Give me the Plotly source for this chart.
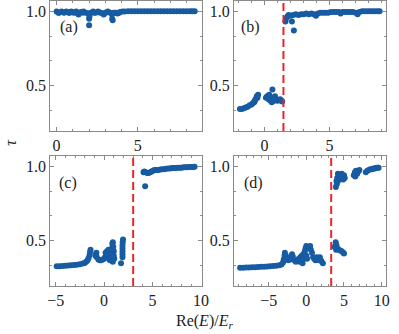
import plotly.graph_objects as go

# ---------------- data ----------------
a_x = [0.0, 0.15, 0.3, 0.45, 0.6, 0.75, 0.9, 1.05, 1.2, 1.3, 1.35, 1.5, 1.65, 1.8, 1.95, 2.0, 2.0, 2.02,
       2.1, 2.25, 2.4, 2.55, 2.7, 2.85, 2.9, 3.0, 3.15, 3.3, 3.4, 3.42, 3.45, 3.5, 3.65, 3.75, 3.9,
       4.05, 4.2, 4.4, 4.6, 4.8, 5.0, 5.2, 5.4, 5.6, 5.8, 6.0, 6.2, 6.4, 6.6, 6.8, 7.0, 7.2, 7.4, 7.6,
       7.8, 8.0, 8.2, 8.35, 8.5,
       0.1, 0.5, 0.8, 1.1, 1.6, 2.3, 2.6, 3.1, 3.6, 3.85]
a_y = [0.998, 0.99, 0.998, 0.99, 0.998, 0.99, 0.998, 0.99, 0.998, 0.985, 0.978, 0.995, 0.998, 0.99, 0.985, 0.95, 0.905, 0.965,
       0.99, 0.998, 0.99, 0.998, 0.99, 0.985, 0.978, 0.99, 0.998, 0.99, 0.98, 0.95, 0.94, 0.99, 0.99, 0.985, 0.995,
       0.998, 0.998, 1.0, 1.0, 1.0, 1.0, 1.0, 1.0, 1.0, 1.0, 1.0, 1.0, 1.0, 1.0, 1.0, 1.0, 1.0, 1.0, 1.0,
       1.0, 1.0, 1.0, 1.0, 1.0,
       0.99, 0.992, 0.99, 0.992, 0.99, 0.99, 0.992, 0.992, 0.99, 0.99]

b_x = [-1.9, -1.75, -1.6, -1.45, -1.3, -1.15, -1.0, -0.9, -0.8, -0.7, -0.6, -0.5, -0.55, -0.75,
       0.1, 0.2, 0.3, 0.45, 0.55, 0.6, 0.7, 0.8, 0.9, 1.0, 1.1, 1.2, 1.3, 1.35, 0.35, 0.75,
       1.6, 1.65, 1.75, 1.85, 2.0, 2.1, 2.25, 2.2, 2.4, 2.6, 2.8, 3.0, 3.2, 3.4, 3.6, 3.8, 3.95, 4.1,
       4.3, 4.5, 4.7, 4.9, 5.1, 5.3, 5.5, 5.7, 5.85, 6.0, 6.2, 6.4, 6.6, 6.8, 7.0, 7.15, 7.3, 7.5,
       7.7, 7.9, 8.1, 8.3, 8.5, 8.7, 8.85]
b_y = [0.345, 0.345, 0.35, 0.355, 0.36, 0.37, 0.375, 0.385, 0.39, 0.41, 0.43, 0.44, 0.42, 0.40,
       0.42, 0.43, 0.41, 0.40, 0.39, 0.475, 0.42, 0.43, 0.41, 0.40, 0.405, 0.41, 0.40, 0.395, 0.44, 0.40,
       0.93, 0.95, 0.965, 0.975, 0.97, 0.93, 0.87, 0.975, 0.98, 0.975, 0.98, 0.98, 0.985, 0.98, 0.985, 0.98, 0.97, 0.985,
       0.99, 0.99, 0.99, 0.99, 0.995, 0.995, 0.995, 0.995, 0.985, 0.995, 0.995, 0.995, 0.995, 0.995, 0.99, 0.98, 0.995, 1.0,
       1.0, 1.0, 1.0, 1.0, 1.0, 1.0, 1.0]
b_line = 1.45

c_x = [-4.9, -4.6, -4.3, -4.0, -3.7, -3.4, -3.1, -2.8, -2.5, -2.2, -2.0, -1.85, -1.7, -1.6, -1.5, -1.45, -1.4,
       -0.9, -0.85, -0.8, -0.75, -0.6, -0.45, -0.3, -0.15, 0.0, 0.1, 0.2, 0.15, 0.3, 0.4, 0.5, 0.6, 0.7,
       0.75, 0.8, 0.85, 0.9, 0.95, 1.0, 1.0, 1.05, 0.9, 0.6, 0.45, 0.85,
       1.75, 1.9, 1.9, 1.9, 1.9, 1.9, 1.92, 1.95,
       4.07, 4.15, 4.24, 4.3, 4.45, 4.6, 4.75, 4.9, 5.05, 5.2, 5.4, 5.6, 5.8, 6.0, 6.2, 6.4, 6.6, 6.8,
       7.0, 7.2, 7.4, 7.6, 7.8, 8.0, 8.2, 8.4, 8.6, 8.8, 9.0, 9.2, 9.35]
c_y = [0.33, 0.33, 0.332, 0.334, 0.335, 0.337, 0.339, 0.341, 0.344, 0.348, 0.352, 0.36, 0.37, 0.385, 0.405, 0.425, 0.44,
       0.40, 0.41, 0.42, 0.39, 0.375, 0.37, 0.37, 0.375, 0.38, 0.39, 0.40, 0.42, 0.43, 0.40, 0.38, 0.37, 0.39,
       0.42, 0.45, 0.48, 0.49, 0.46, 0.43, 0.40, 0.38, 0.36, 0.41, 0.44, 0.40,
       0.35, 0.39, 0.41, 0.43, 0.45, 0.47, 0.49, 0.51,
       0.96, 0.965, 0.866, 0.96, 0.955, 0.955, 0.96, 0.965, 0.97, 0.975, 0.975, 0.975, 0.978, 0.98, 0.98, 0.983, 0.985, 0.985,
       0.987, 0.988, 0.988, 0.99, 0.99, 0.99, 0.992, 0.993, 0.993, 0.994, 0.995, 0.995, 0.996]
c_line = 3.0

d_x = [-8.8, -8.4, -8.0, -7.6, -7.2, -6.8, -6.4, -6.0, -5.6, -5.2, -4.8, -4.4, -4.0, -3.6, -3.3, -3.1, -3.0, -2.9,
       -2.85, -2.7, -2.6, -2.4, -2.2, -2.0, -1.9, -1.8, -1.6, -1.4, -1.2, -1.0, -0.8, -0.6, -0.4, -0.2, -0.1, 0.0,
       -0.3, -0.6, -0.9, -0.5, 0.0, 0.1,
       0.5, 0.6, 0.75, 0.9, 1.05, 1.2,
       1.4, 1.6, 1.8, 2.0, 2.2, 1.7,
       3.75, 3.9, 4.0, 4.1, 4.3, 4.5, 4.7, 4.9, 5.0, 3.95,
       3.92, 4.0, 4.1, 4.2, 4.3, 4.4, 4.5, 4.6, 4.7, 4.8, 4.9, 5.0, 5.1, 4.2, 4.05,
       6.3, 6.45, 6.6, 6.75, 6.9, 7.05, 6.5,
       7.9, 8.1, 8.3, 8.5, 8.7, 8.9, 9.1, 9.3, 9.5, 9.6]
d_y = [0.32, 0.32, 0.321, 0.322, 0.323, 0.324, 0.325, 0.326, 0.327, 0.328, 0.33, 0.332, 0.334, 0.337, 0.342, 0.355, 0.375, 0.40,
       0.42, 0.40, 0.38, 0.37, 0.375, 0.39, 0.41, 0.395, 0.37, 0.36, 0.37, 0.38, 0.39, 0.40, 0.41, 0.43, 0.45, 0.465,
       0.38, 0.37, 0.36, 0.35, 0.40, 0.38,
       0.465, 0.44, 0.42, 0.39, 0.38, 0.37,
       0.39, 0.376, 0.39, 0.365, 0.35, 0.37,
       0.46, 0.49, 0.47, 0.45, 0.44, 0.435, 0.43, 0.42, 0.415, 0.44,
       0.86, 0.90, 0.92, 0.90, 0.93, 0.91, 0.94, 0.92, 0.95, 0.93, 0.91, 0.94, 0.92, 0.95, 0.88,
       0.94, 0.96, 0.97, 0.95, 0.965, 0.975, 0.93,
       0.96, 0.97, 0.975, 0.98, 0.98, 0.985, 0.985, 0.99, 0.99, 0.99]
d_line = 3.3

panel_labels = ["(a)", "(b)", "(c)", "(d)"]
x_ranges = [[-0.39, 8.94], [-2.35, 9.35], [-5.56, 10.1], [-9.6, 10.6]]
y_range = [0.198, 1.068]

# ---------------- figure ----------------
W, H = 399, 334
BLUE = "#175ba3"
RED = "#e8262a"
FONT = "Liberation Serif"
AX = "#8a8a8a"

xdom = [[48.5 / W, 204 / W], [237 / W, 393 / W], [48.5 / W, 204 / W], [237 / W, 393 / W]]
ydom = [[(H - 131) / H, (H - 1) / H], [(H - 131) / H, (H - 1) / H],
        [(H - 286) / H, (H - 156) / H], [(H - 286) / H, (H - 156) / H]]

fig = go.Figure()
data = [(a_x, a_y), (b_x, b_y), (c_x, c_y), (d_x, d_y)]
lines = [None, b_line, c_line, d_line]
label_off = [7.5, 5.0, 6.5, 8.0]

for i, (xs, ys) in enumerate(data):
    n = "" if i == 0 else str(i + 1)
    fig.add_trace(go.Scatter(x=xs, y=ys, mode="markers", xaxis="x" + n, yaxis="y" + n,
                             marker=dict(color=BLUE, size=6, line=dict(width=0)),
                             showlegend=False, hoverinfo="skip"))
    if lines[i] is not None:
        fig.add_shape(type="line", xref="x" + n, yref="y" + n + " domain",
                      x0=lines[i], x1=lines[i], y0=0, y1=1,
                      line=dict(color=RED, width=2, dash="8px,4px"))
    common = dict(showline=True, linecolor=AX, linewidth=1, mirror="ticks",
                  ticks="inside", ticklen=4, tickcolor=AX, tickwidth=1,
                  showgrid=False, zeroline=False,
                  tickfont=dict(family=FONT, size=16, color="#222"))
    fig.layout["xaxis" + n] = dict(domain=xdom[i], range=x_ranges[i], anchor="y" + n,
                                   tickmode="linear", tick0=0, dtick=5,
                                   minor=dict(ticks="inside", ticklen=2, dtick=1, tick0=0, tickcolor=AX),
                                   **common)
    fig.layout["yaxis" + n] = dict(domain=ydom[i], range=y_range, anchor="x" + n,
                                   tickmode="array", tickvals=[0.5, 1.0], ticktext=["0.5", "1.0"],
                                   minor=dict(ticks="inside", ticklen=2, tick0=0.5, dtick=1 / 6, tickcolor=AX),
                                   **common)
    fig.add_annotation(text=panel_labels[i], xref="x" + n + " domain", yref="y" + n + " domain",
                       x=label_off[i] / 156, y=1 - 26.5 / 130, xanchor="left", yanchor="middle",
                       showarrow=False, font=dict(family=FONT, size=16, color="#222"))

fig.add_annotation(text="Re(<i>E</i>)/<i>E</i><sub><i>r</i></sub>", xref="paper", yref="paper",
                   x=207 / W, y=(H - 321.7) / H, xanchor="center", yanchor="middle",
                   showarrow=False, font=dict(family=FONT, size=16, color="#222"))
fig.add_annotation(text="<i>τ</i>", xref="paper", yref="paper", textangle=-90,
                   x=7 / W, y=(H - 142) / H, xanchor="center", yanchor="middle",
                   showarrow=False, font=dict(family=FONT, size=16, color="#222"))

fig.update_layout(width=W, height=H, margin=dict(l=0, r=0, t=0, b=0),
                  plot_bgcolor="white", paper_bgcolor="white", hovermode=False)
fig.write_html("out.html", config={"displayModeBar": False, "staticPlot": True},
               post_script="document.body.style.margin='0';document.body.style.padding='0';")
